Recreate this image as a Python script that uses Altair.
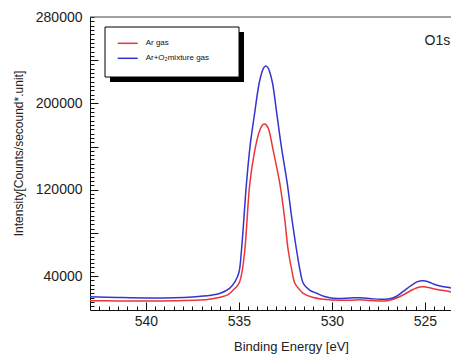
import altair as alt
import pandas as pd

series_names = ["Ar gas", "Ar+O₂mixture gas"]
series_colors = ["#e8363a", "#3434d0"]

# Ar gas (red)
be_ar = [543.0, 541.5, 540.0, 538.5, 537.1, 536.5, 536.0, 535.6, 535.3, 535.0,
         534.85, 534.68, 534.41, 534.14, 533.9, 533.75, 533.64, 533.52, 533.4,
         533.16, 532.8, 532.55, 532.35, 532.15, 531.99, 531.72, 531.54, 531.0,
         530.48, 529.95, 529.0, 528.5, 527.9, 527.15, 526.7, 526.18, 525.7,
         525.3, 525.09, 524.8, 524.5, 524.19, 523.7, 523.23]
int_ar = [17100, 16900, 16850, 17100, 17800, 18800, 20270, 22500, 27000, 33000,
          42000, 64100, 125900, 156800, 174000, 179500, 180850, 179800, 176000,
          156800, 125900, 95000, 64100, 45000, 33250, 27000, 24000, 20000,
          18400, 17800, 17500, 18000, 17300, 16850, 18500, 22400, 27000,
          29800, 30100, 29300, 28000, 27040, 25600, 24000]

# Ar+O2 mixture gas (blue)
be_mix = [543.0, 541.5, 540.0, 538.5, 537.5, 536.5, 536.0, 535.5, 535.2, 535.0,
          534.85, 534.6, 534.4, 534.18, 533.91, 533.75, 533.65, 533.55, 533.45,
          533.35, 533.19, 532.94, 532.7, 532.4, 532.15, 531.9, 531.7, 531.54,
          531.2, 530.82, 530.4, 529.95, 529.0, 528.5, 527.9, 527.4, 527.0,
          526.6, 526.18, 525.8, 525.4, 525.09, 524.8, 524.5, 524.19, 523.7,
          523.23]
int_mix = [20700, 20100, 19700, 19900, 20600, 22200, 24000, 28500, 35000, 43000,
           66000, 124000, 160000, 187600, 218600, 229500, 233300, 234600, 233300,
           229500, 218600, 187600, 158000, 125900, 93000, 64100, 44000, 33250,
           27000, 24000, 21000, 19400, 19600, 19900, 19000, 18400, 18600,
           20500, 25460, 30500, 34800, 35700, 34500, 32300, 30750, 29300,
           27700]

x_major_ticks = [525, 530, 535, 540]
x_minor_ticks = [524 + 0.5 * i for i in range(38)]
y_major_ticks = [40000 * i for i in range(1, 7)]
y_minor_ticks = [4000 * i for i in range(3, 71)]
x_domain = [523.6, 543]
y_domain = [8500, 280000]

annot_be = [524.33]
annot_int = [257800]
annot_text = ["O1s"]

W, H = 361, 293
FONT = "Liberation Sans"
INK = "#222222"
TICK = "#111111"

df = pd.concat([
    pd.DataFrame({"be": be_ar, "intensity": int_ar, "series": series_names[0]}),
    pd.DataFrame({"be": be_mix, "intensity": int_mix, "series": series_names[1]}),
], ignore_index=True)

xs = alt.Scale(domain=x_domain, reverse=True, nice=False, zero=False)
ys = alt.Scale(domain=y_domain, nice=False, zero=False)

# main axes: all minor ticks drawn inward (negative tick size through an expression),
# labels only on the labelled values
x_axis = alt.Axis(values=x_minor_ticks,
                  labelExpr="datum.value % 5 === 0 ? format(datum.value, 'd') : ''",
                  ticks=True, tickSize=alt.ExprRef(expr="-4"), tickColor=TICK,
                  tickWidth=1, grid=False,
                  domainColor=TICK, labelFontSize=14, labelFont=FONT,
                  labelColor=INK, labelPadding=8, labelFlush=False, labelOverlap=False,
                  title="Binding Energy [eV]", titleFontSize=13, titleFont=FONT,
                  titleFontWeight="normal", titleColor=INK, titleX=201, titleY=36,
                  titleAlign="center", titleBaseline="middle")
y_axis = alt.Axis(values=y_minor_ticks,
                  labelExpr="datum.value % 80000 === 40000 ? format(datum.value, 'd') : ''",
                  ticks=True, tickSize=alt.ExprRef(expr="-4"), tickColor=TICK,
                  tickWidth=1, grid=False,
                  domainColor=TICK, labelFontSize=14, labelFont=FONT,
                  labelColor=INK, labelPadding=12, labelOverlap=False,
                  title="Intensity[Counts/secound*.unit]", titleFontSize=12,
                  titleFont=FONT, titleFontWeight="normal", titleColor=INK,
                  titleX=-72, titleY=136, titleAngle=270, titleAlign="center",
                  titleBaseline="middle")

lines = alt.Chart(df).mark_line(strokeWidth=1.5, interpolate="catmull-rom", clip=True).encode(
    x=alt.X("be:Q", scale=xs, axis=x_axis),
    y=alt.Y("intensity:Q", scale=ys, axis=y_axis),
    color=alt.Color("series:N",
                    scale=alt.Scale(domain=series_names, range=series_colors),
                    legend=alt.Legend(title=None, orient="none", legendX=26.7,
                                      legendY=15.3, padding=0, symbolType="stroke",
                                      symbolSize=400, symbolStrokeWidth=1.5,
                                      labelFontSize=8, labelFont=FONT,
                                      labelColor="#111111", labelOffset=7,
                                      rowPadding=-5)),
)


# longer inward major ticks: tick-only axes moved onto the plot edge
def xticks(vals, length):
    ax = alt.Axis(orient="top", offset=-H, values=vals, labels=False, domain=False,
                  grid=False, ticks=True, tickSize=length, tickColor=TICK,
                  tickWidth=1, title="")
    return alt.Chart(pd.DataFrame({"be": vals})).mark_point(opacity=0).encode(
        x=alt.X("be:Q", scale=xs, axis=ax), y=alt.value(0))


def yticks(vals, length):
    ax = alt.Axis(orient="right", offset=-W, values=vals, labels=False, domain=False,
                  grid=False, ticks=True, tickSize=length, tickColor=TICK,
                  tickWidth=1, title="")
    return alt.Chart(pd.DataFrame({"intensity": vals})).mark_point(opacity=0).encode(
        y=alt.Y("intensity:Q", scale=ys, axis=ax), x=alt.value(0))


top_border = alt.Chart(alt.Data(values=[{}])).mark_rule(color="#444444", strokeWidth=1).encode(
    x=alt.value(0), x2=alt.value(W), y=alt.value(0))
shadow = alt.Chart(alt.Data(values=[{}])).mark_rect(color="black").encode(
    x=alt.value(20), x2=alt.value(154), y=alt.value(15), y2=alt.value(65))
box = alt.Chart(alt.Data(values=[{}])).mark_rect(fill="white", stroke="black", strokeWidth=1).encode(
    x=alt.value(15), x2=alt.value(149), y=alt.value(10), y2=alt.value(60))

annot = alt.Chart(pd.DataFrame({"be": annot_be, "intensity": annot_int, "label": annot_text})).mark_text(
    fontSize=14, font=FONT, color=INK, align="center", baseline="middle").encode(
    x=alt.X("be:Q", scale=xs, axis=None),
    y=alt.Y("intensity:Q", scale=ys, axis=None),
    text="label:N")

chart = alt.layer(
    lines,
    xticks(x_major_ticks, 8), yticks(y_major_ticks, 8),
    top_border, shadow, box, annot,
).resolve_axis(x="independent", y="independent").properties(
    width=W, height=H, autosize="none",
    padding={"left": 82, "top": 9, "right": 0, "bottom": 48},
    background="white",
).configure_view(stroke="transparent")

chart.save("out.html", embed_options={"renderer": "svg", "actions": False})
